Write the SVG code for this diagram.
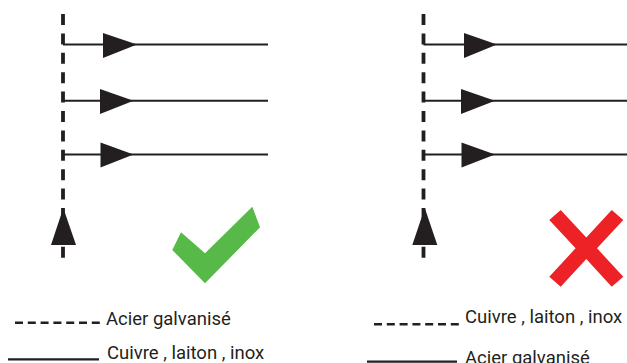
<svg xmlns="http://www.w3.org/2000/svg" width="627" height="363" viewBox="0 0 627 363">
  <style>
    .pipe { fill: none; stroke: #231f20; stroke-width: 2; }
    .vdash { fill: none; stroke: #231f20; stroke-width: 3.8; stroke-dasharray: 11 8.4; }
    .ldash { fill: none; stroke: #231f20; stroke-width: 2.6; stroke-dasharray: 8 4.8; }
    .lsolid { fill: none; stroke: #231f20; stroke-width: 2.2; }
    .head { fill: #231f20; }
    .lbl { font-family: Roboto, "Liberation Sans", sans-serif; font-size: 18.5px; fill: #231f20; }
  </style>
  <rect width="627" height="363" fill="#ffffff"/>

  <g id="connectors">
    <!-- left diagram -->
    <line class="vdash" x1="63" y1="14" x2="63" y2="258"/>
    <line class="pipe" x1="63" y1="44.5" x2="268" y2="44.5"/>
    <line class="pipe" x1="63" y1="100.7" x2="268" y2="100.7"/>
    <line class="pipe" x1="63" y1="154.5" x2="268" y2="154.5"/>
    <polygon class="head" points="103,33 137,44.5 103,58"/>
    <polygon class="head" points="100,89 133.5,100.7 100,114"/>
    <polygon class="head" points="100.5,142.5 133.5,154.5 100.5,167.5"/>
    <polygon class="head" points="63.3,208 76,245 51,245"/>
    <!-- right diagram -->
    <line class="vdash" x1="423.5" y1="14" x2="423.5" y2="258"/>
    <line class="pipe" x1="423.5" y1="44.5" x2="627" y2="44.5"/>
    <line class="pipe" x1="423.5" y1="100.7" x2="627" y2="100.7"/>
    <line class="pipe" x1="423.5" y1="154.5" x2="627" y2="154.5"/>
    <polygon class="head" points="464,33 497,44.5 464,58"/>
    <polygon class="head" points="461,89 495,100.7 461,114"/>
    <polygon class="head" points="461.5,142.5 495,154.5 461.5,167.5"/>
    <polygon class="head" points="424.8,208 437.3,245 412.3,245"/>
  </g>

  <g id="check">
    <polygon fill="#57b947" points="181,232.3 205,253.3 252.3,206.7 260,227.3 205,283.3 172.3,250"/>
  </g>
  <g id="cross">
    <polygon fill="#ed2227" points="560.7,210 586.3,237.6 611.7,210 623.3,220 597,248.3 623.3,276.7 611.7,286.7 586.3,259 560.7,286.7 549.3,276.7 575.6,248.3 549.3,220"/>
  </g>

  <g id="legend-left">
    <line class="ldash" x1="15" y1="322.7" x2="100" y2="322.7"/>
    <text class="lbl" x="106" y="325">Acier galvanisé</text>
    <line class="lsolid" x1="8" y1="359.3" x2="99" y2="359.3"/>
    <text class="lbl" x="107" y="359">Cuivre , laiton , inox</text>
  </g>
  <g id="legend-right">
    <line class="ldash" x1="374" y1="324.3" x2="460" y2="324.3"/>
    <text class="lbl" x="465" y="323.3">Cuivre , laiton , inox</text>
    <line class="lsolid" x1="367" y1="361.7" x2="457" y2="361.7"/>
    <text class="lbl" x="465" y="363.5">Acier galvanisé</text>
  </g>
</svg>
